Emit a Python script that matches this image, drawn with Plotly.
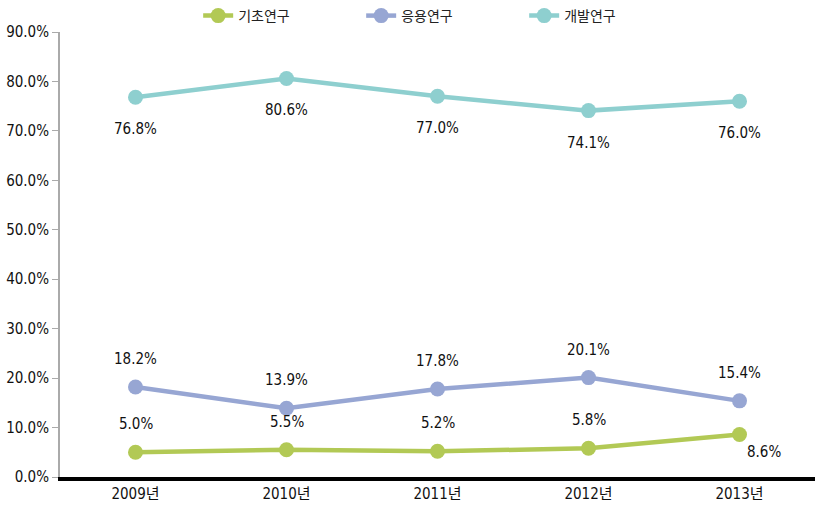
import plotly.graph_objects as go

years = ["2009년", "2010년", "2011년", "2012년", "2013년"]
basic = [5.0, 5.5, 5.2, 5.8, 8.6]
applied = [18.2, 13.9, 17.8, 20.1, 15.4]
develop = [76.8, 80.6, 77.0, 74.1, 76.0]
series_names = ["기초연구", "응용연구", "개발연구"]
y_ticks = [0, 10, 20, 30, 40, 50, 60, 70, 80, 90]

colors = ["#B2C955", "#97A6D3", "#8ECFCF"]
FONT = "DejaVu Sans Condensed, Liberation Sans Narrow, Roboto Condensed, Noto Sans CJK KR, sans-serif"

fig = go.Figure()
for name, vals, col in zip(series_names, [basic, applied, develop], colors):
    fig.add_trace(go.Scatter(
        x=years, y=vals, name=name, mode="lines+markers",
        line=dict(color=col, width=4.5),
        marker=dict(color=col, size=15),
    ))

annotations = []
place = {
    "기초연구": ["above", "above", "above", "above", "belowright"],
    "응용연구": ["above"] * 5,
    "개발연구": ["below"] * 5,
}
for name, vals in zip(series_names, [basic, applied, develop]):
    for i, (yr, v) in enumerate(zip(years, vals)):
        p = place[name][i]
        xs, ys = 0, 0
        if p == "above":
            ys = 28
        elif p == "below":
            ys = -32
        else:
            xs, ys = 24, -18
        annotations.append(dict(
            x=yr, y=v, text=f"{v:.1f}%", showarrow=False,
            xshift=xs, yshift=ys,
            font=dict(family=FONT, size=15, color="#111111"),
        ))

fig.update_layout(
    width=827, height=509,
    margin=dict(l=60, r=12, t=0, b=32),
    paper_bgcolor="white", plot_bgcolor="white",
    annotations=annotations,
    showlegend=True,
    legend=dict(
        orientation="h", x=0.183, xanchor="left",
        yref="container", y=1.0, yanchor="top",
        font=dict(family="Noto Sans CJK KR, sans-serif", size=14, color="#222222"),
        entrywidth=118, entrywidthmode="pixels",
        itemwidth=30, tracegroupgap=0,
        bgcolor="rgba(0,0,0,0)",
    ),
    xaxis=dict(
        type="category", range=[-0.5, 4.5], automargin=False,
        showline=True, linecolor="#000000", linewidth=4,
        showgrid=False, ticks="", zeroline=False,
        tickfont=dict(family=FONT, size=15, color="#111111"),
    ),
    yaxis=dict(
        range=[0, 90], tickvals=y_ticks, automargin=False,
        ticktext=[f"{t:.1f}%" for t in y_ticks],
        showline=True, linecolor="#AAAAAA", linewidth=2,
        ticks="outside", ticklen=6, tickcolor="#AAAAAA", tickwidth=1,
        showgrid=False, zeroline=False,
        tickfont=dict(family=FONT, size=15, color="#111111"),
    ),
)

fig.write_html("out.html", config={"displayModeBar": False},
               post_script="document.body.style.margin='0';")
